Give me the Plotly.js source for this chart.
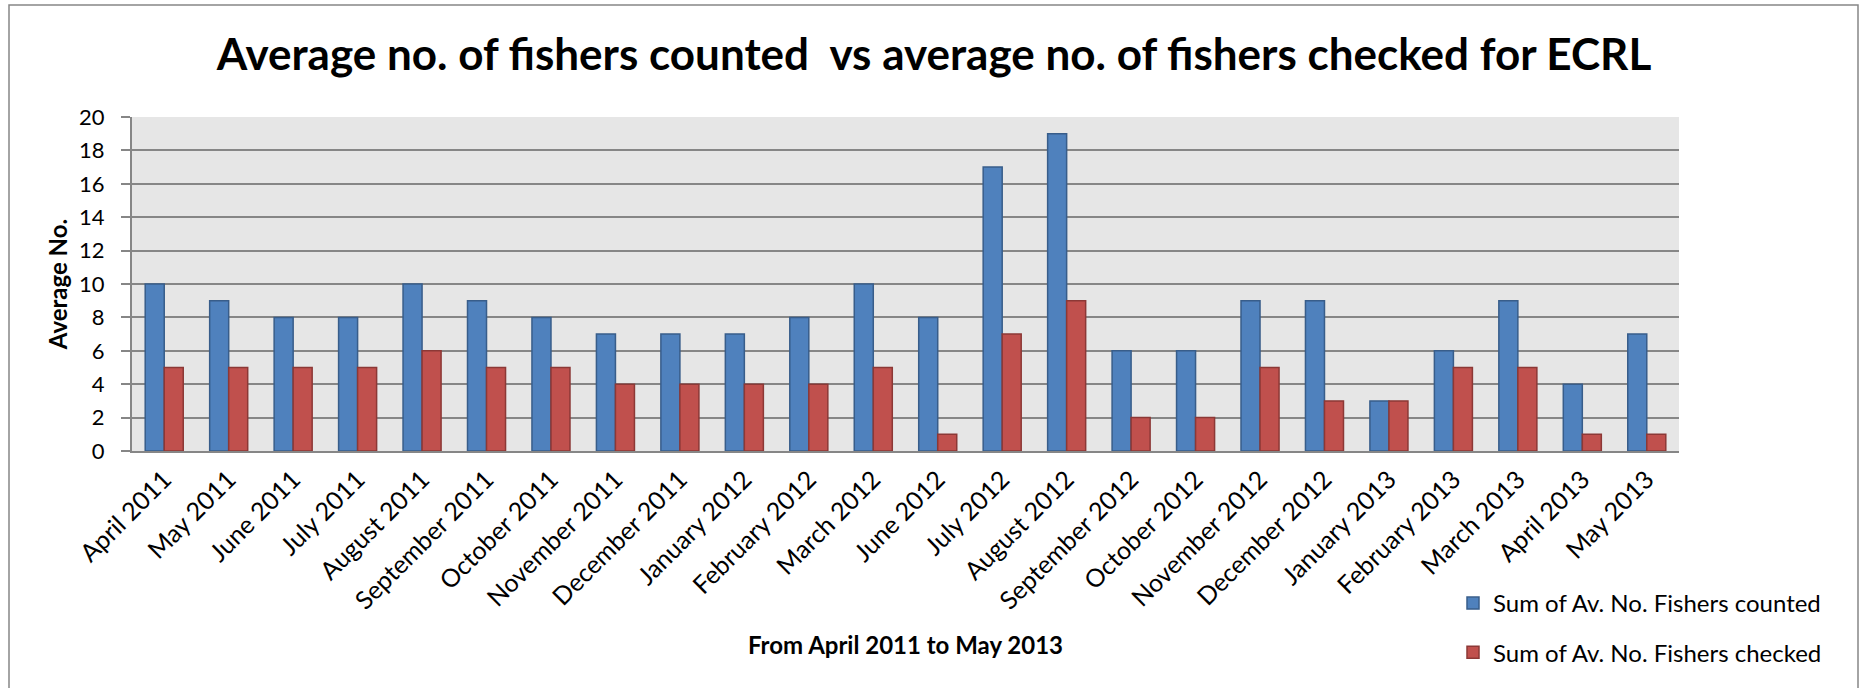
<!DOCTYPE html>
<html>
<head>
<meta charset="utf-8">
<script src="https://cdn.plot.ly/plotly-3.0.1.min.js"></script>
<style>
html,body{margin:0;padding:0;background:#fff;overflow:hidden;}
#chart{width:1859px;height:688px;}
</style>
</head>
<body>
<div id="chart"></div>
<script>
const months = ["April 2011","May 2011","June 2011","July 2011","August 2011","September 2011","October 2011","November 2011","December 2011","January 2012","February 2012","March 2012","June 2012","July 2012","August 2012","September 2012","October 2012","November 2012","December 2012","January 2013","February 2013","March 2013","April 2013","May 2013"];
const fishersCounted = [10,9,8,8,10,9,8,7,7,7,8,10,8,17,19,6,6,9,9,3,6,9,4,7];
const fishersChecked = [5,5,5,5,6,5,5,4,4,4,4,5,1,7,9,2,2,5,3,3,5,5,1,1];
const seriesNames = ["Sum of Av. No. Fishers counted","Sum of Av. No. Fishers checked"];
const yTicks = [0,2,4,6,8,10,12,14,16,18,20];

const FONT = "Lato, 'Open Sans', sans-serif";
const W = 1859, H = 688;
const L = 132, R = 1679, T = 117, B = 451;
const pw = R - L, ph = B - T;
const px = x => (x - L) / pw;
const py = y => (B - y) / ph;

const data = [
  {type:"bar", x:months, y:fishersCounted, name:seriesNames[0], legendgroup:"a",
   marker:{color:"#4f81bd", line:{color:"#385d8a", width:1.5}}},
  {type:"bar", x:months, y:fishersChecked, name:seriesNames[1], legendgroup:"b",
   marker:{color:"#c0504d", line:{color:"#8c3836", width:1.5}}}
];

const layout = {
  width:W, height:H,
  margin:{l:L, r:W-R, t:T, b:H-B, pad:0},
  paper_bgcolor:"#ffffff",
  plot_bgcolor:"#e6e6e6",
  barmode:"group",
  bargap:0.41,
  bargroupgap:0,
  font:{family:FONT, color:"#000", size:20},
  title:{text:"Average no. of fishers counted  vs average no. of fishers checked for ECRL",
         font:{family:FONT, size:44, color:"#000", weight:"bold"},
         x:px(934), xref:"paper", xanchor:"center", y:1-55/H, yanchor:"middle"},
  xaxis:{type:"category", tickangle:-45, tickfont:{size:25},
         showline:true, linecolor:"#868686", linewidth:2, ticks:"", showgrid:false,
         ticklabelstandoff:2,
         title:{text:"From April 2011 to May 2013", font:{size:24, weight:"bold"}, standoff:24},
         automargin:false},
  yaxis:{range:[0,20], tickvals:yTicks, ticktext:yTicks.map(String), tickfont:{size:22},
         showline:true, linecolor:"#868686", linewidth:2, ticks:"outside", ticklen:9,
         tickcolor:"#868686", tickwidth:2, ticklabelstandoff:12,
         showgrid:true, gridcolor:"#868686", gridwidth:2, zeroline:false,
         title:{text:"Average No.", font:{size:24, weight:"bold"}, standoff:5},
         automargin:false},
  legend:{x:px(1453), y:py(581), xanchor:"left", yanchor:"top", xref:"paper", yref:"paper",
          font:{size:24}, traceorder:"grouped", tracegroupgap:15, bgcolor:"rgba(0,0,0,0)",
          itemwidth:30},
  showlegend:true,
  shapes:[
    {type:"rect", xref:"paper", yref:"paper", x0:px(9), x1:px(1858), y0:py(700), y1:py(5),
     line:{color:"#868686", width:1.5}, fillcolor:"rgba(0,0,0,0)", layer:"below"}
  ]
};

Plotly.newPlot("chart", data, layout, {displayModeBar:false, staticPlot:true});
</script>
</body>
</html>
